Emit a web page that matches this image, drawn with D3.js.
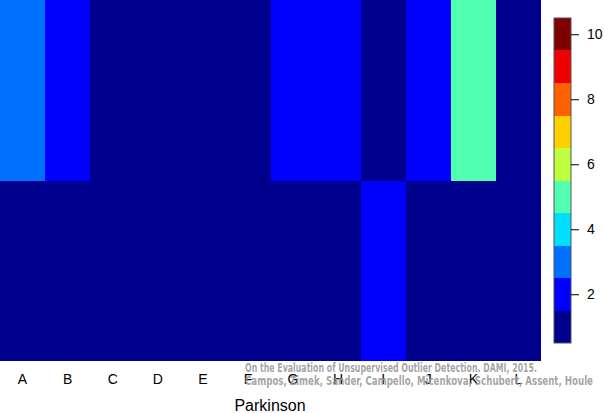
<!DOCTYPE html>
<html><head><meta charset="utf-8">
<script src="https://cdn.jsdelivr.net/npm/d3@7"></script>
<style>body{margin:0;background:#fff}svg{display:block}</style>
</head><body>
<svg id="c" width="605" height="413"></svg>
<script>
const columns = ["A","B","C","D","E","F","G","H","I","J","K","L"];
const rows = ["top","bottom"];
const topRow =    [3,2,1,1,1,1,2,2,1,2,5,1];
const bottomRow = [1,1,1,1,1,1,1,1,2,1,1,1];
const palette = ["#00008F","#0000FF","#0070FF","#00DFFF","#50FFAF","#BFFF40","#FFCF00","#FF6000","#EF0000","#800000"];
const colorTicks = [2,4,6,8,10];
const xTitle = "Parkinson";
const credit = ["On the Evaluation of Unsupervised Outlier Detection. DAMI, 2015.",
                "Campos, Zimek, Sander, Campello, Micenkova, Schubert, Assent, Houle"];

const svg = d3.select("#c");
const x = d3.scaleBand().domain(columns).range([0,541]);
const y = d3.scaleBand().domain(rows).range([0,361]);
const color = d3.scaleQuantize().domain([0.5,10.5]).range(palette);

const cells = [];
columns.forEach((c,i)=>{ cells.push({c, r:"top", v:topRow[i]}); cells.push({c, r:"bottom", v:bottomRow[i]}); });

svg.append("g").attr("shape-rendering","crispEdges").selectAll("rect").data(cells).join("rect")
  .attr("x", d=>Math.round(x(d.c))).attr("y", d=>Math.round(y(d.r)))
  .attr("width", d=>Math.round(x(d.c)+x.bandwidth())-Math.round(x(d.c)))
  .attr("height", d=>Math.round(y(d.r)+y.bandwidth())-Math.round(y(d.r)))
  .attr("fill", d=>color(d.v));

// x axis labels
const xa = svg.append("g").attr("transform","translate(0,361)")
  .call(d3.axisBottom(x).tickSize(0).tickPadding(13));
xa.select(".domain").remove();
xa.selectAll("text").attr("font-family","Liberation Sans, Arial, sans-serif").attr("font-size",14).attr("fill","#000");

svg.append("text").attr("x",270).attr("y",411).attr("text-anchor","middle")
  .attr("font-family","Liberation Sans, Arial, sans-serif").attr("font-size",16).text(xTitle);

// colorbar
const cy = d3.scaleLinear().domain([0.5,10.5]).range([343,18]);
const bins = d3.range(1,11);
svg.append("g").attr("shape-rendering","crispEdges").selectAll("rect").data(bins).join("rect")
  .attr("x",554).attr("width",17)
  .attr("y", d=>Math.round(cy(d+0.5))).attr("height", d=>Math.round(cy(d-0.5))-Math.round(cy(d+0.5)))
  .attr("fill", d=>palette[d-1]);
svg.append("rect").attr("x",554).attr("y",18).attr("width",17).attr("height",325)
  .attr("fill","none").attr("stroke","#555").attr("stroke-width",1);
const ca = svg.append("g").attr("transform","translate(571,0)")
  .call(d3.axisRight(cy).tickValues(colorTicks).tickSize(8).tickPadding(8));
ca.select(".domain").remove();
ca.selectAll("line").attr("stroke","#000");
ca.selectAll("text").attr("font-family","Liberation Sans, Arial, sans-serif").attr("font-size",14).attr("fill","#000");

// credit watermark
svg.append("g").selectAll("text").data(credit).join("text")
  .attr("x",245).attr("y",(d,i)=>372+i*12.5)
  .attr("font-family","DejaVu Sans Condensed, DejaVu Sans, sans-serif")
  .attr("font-weight","bold").attr("font-size",11.5)
  .attr("fill","#999").attr("fill-opacity",0.9)
  .attr("textLength",(d,i)=>i===0?292:348).attr("lengthAdjust","spacingAndGlyphs")
  .text(d=>d);
</script>
</body></html>
